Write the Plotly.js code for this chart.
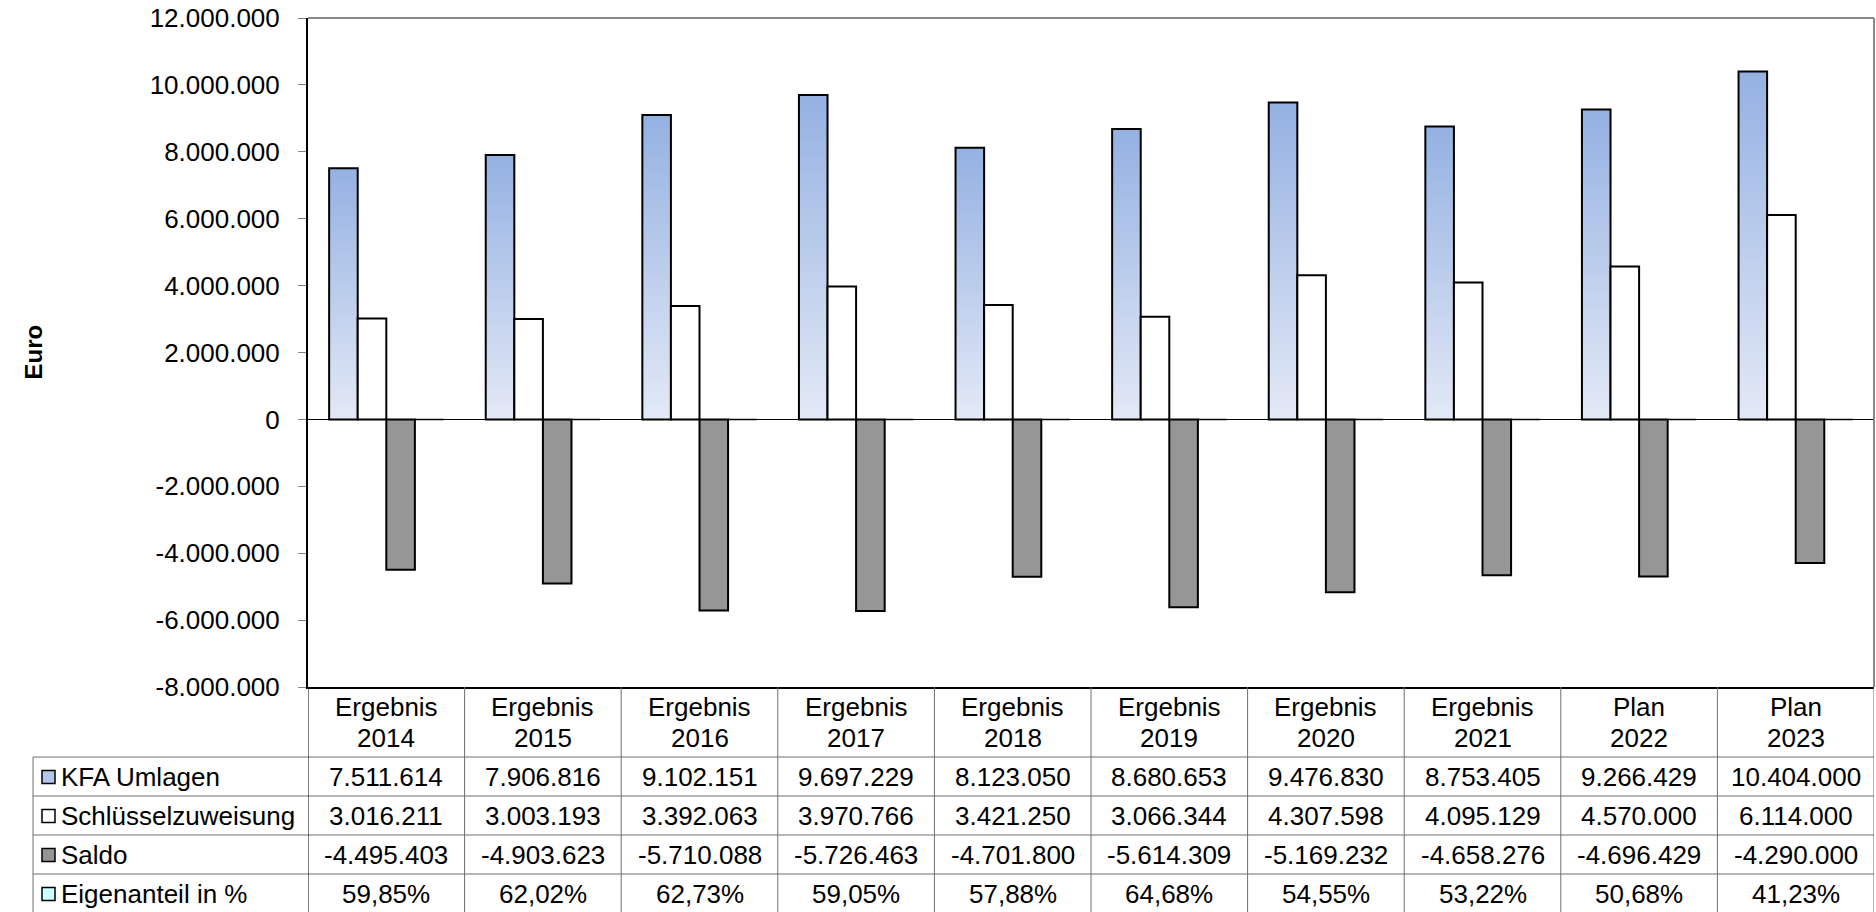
<!DOCTYPE html>
<html>
<head>
<meta charset="utf-8">
<script src="https://cdn.plot.ly/plotly-3.0.1.min.js"></script>
<style>
  html, body { margin: 0; padding: 0; background: #ffffff; }
  #chart { width: 1876px; height: 912px; }
</style>
</head>
<body>
<div id="chart"></div>
<script>
// ---------------- Data ----------------
const categories = ["Ergebnis<br>2014", "Ergebnis<br>2015", "Ergebnis<br>2016", "Ergebnis<br>2017",
  "Ergebnis<br>2018", "Ergebnis<br>2019", "Ergebnis<br>2020", "Ergebnis<br>2021", "Plan<br>2022", "Plan<br>2023"];
const seriesNames = ["KFA Umlagen", "Schlüsselzuweisung", "Saldo", "Eigenanteil in %"];
const kfaUmlagen = [7511614, 7906816, 9102151, 9697229, 8123050, 8680653, 9476830, 8753405, 9266429, 10404000];
const schluesselzuweisung = [3016211, 3003193, 3392063, 3970766, 3421250, 3066344, 4307598, 4095129, 4570000, 6114000];
const saldo = [-4495403, -4903623, -5710088, -5726463, -4701800, -5614309, -5169232, -4658276, -4696429, -4290000];
const eigenanteilPct = [59.85, 62.02, 62.73, 59.05, 57.88, 64.68, 54.55, 53.22, 50.68, 41.23];
const yTickVals = [-8000000, -6000000, -4000000, -2000000, 0, 2000000, 4000000, 6000000, 8000000, 10000000, 12000000];
const axisTitle = "Euro";

// ---------------- Helpers ----------------
function fmtInt(v) {
  const s = Math.abs(Math.round(v)).toString().replace(/\B(?=(\d{3})+(?!\d))/g, ".");
  return (v < 0 ? "-" : "") + s;
}
function fmtPct(v) { return v.toFixed(2).replace(".", ",") + "%"; }

const W = 1876, H = 912;
const M = { l: 308, r: 2, t: 18, b: 225 };
const PW = W - M.l - M.r, PH = H - M.t - M.b;
const px2x = px => (px - M.l) / PW;
const py2y = py => (H - M.b - py) / PH;
const FONT = "Liberation Sans, Arial, sans-serif";
const xIdx = categories.map((c, i) => i);

const fills = ["#B4C7EB", "#FFFFFF", "#969696", "#CCFFFF"];
const rowValues = [kfaUmlagen.map(fmtInt), schluesselzuweisung.map(fmtInt), saldo.map(fmtInt), eigenanteilPct.map(fmtPct)];

// ---------------- Traces ----------------
const seriesY = [kfaUmlagen, schluesselzuweisung, saldo, eigenanteilPct.map(v => v / 100)];
const traces = seriesY.map((ys, k) => ({
  type: "bar",
  x: xIdx,
  y: ys,
  name: seriesNames[k],
  marker: { color: fills[k], line: { color: "#000000", width: k === 3 ? 1.5 : 2 } },
  hoverinfo: "name+y",
  showlegend: false
}));

// ---------------- Table (shapes + annotations) ----------------
const rowLinesPx = [757, 796, 835, 874];
const rowCentersPx = [777, 816, 855, 894];
const headerLinesPx = [707, 738];
const gridColor = "#6e6e6e";
const shapes = [];
const annotations = [];

// plot frame: top and right in gray
shapes.push({ type: "line", xref: "paper", yref: "paper", x0: 0, x1: 1, y0: 1, y1: 1, line: { color: "#8a8a8a", width: 2 } });
shapes.push({ type: "line", xref: "paper", yref: "paper", x0: 1, x1: 1, y0: 0, y1: 1, line: { color: "#8a8a8a", width: 2 } });

// horizontal table lines
rowLinesPx.forEach(py => {
  shapes.push({ type: "line", xref: "paper", yref: "paper", x0: px2x(33), x1: 1, y0: py2y(py), y1: py2y(py),
    line: { color: gridColor, width: 1 } });
});
// left border of legend column
shapes.push({ type: "line", xref: "paper", yref: "paper", x0: px2x(33), x1: px2x(33), y0: py2y(757), y1: py2y(H),
  line: { color: gridColor, width: 1 } });
// column separators
for (let i = 0; i <= categories.length; i++) {
  shapes.push({ type: "line", xref: "x", yref: "paper", x0: i - 0.5, x1: i - 0.5, y0: 0, y1: py2y(H),
    line: { color: i === 0 ? "#000000" : gridColor, width: 1 } });
}
// category header (two lines per category)
categories.forEach((c, i) => {
  c.split("<br>").forEach((part, j) => {
    annotations.push({ xref: "x", yref: "paper", x: i, y: py2y(headerLinesPx[j]), xanchor: "center", yanchor: "middle",
      text: part, showarrow: false, font: { family: FONT, size: 26, color: "#000000" } });
  });
});
// legend keys + labels + cell values
seriesNames.forEach((name, r) => {
  const cy = rowCentersPx[r];
  shapes.push({ type: "rect", xref: "paper", yref: "paper",
    x0: px2x(42), x1: px2x(55), y0: py2y(cy - 6.5), y1: py2y(cy + 6.5),
    fillcolor: fills[r], line: { color: "#000000", width: 1.5 } });
  annotations.push({ xref: "paper", yref: "paper", x: px2x(59), y: py2y(cy), xanchor: "left", yanchor: "middle",
    text: name, showarrow: false, font: { family: FONT, size: 26, color: "#000000" } });
  rowValues[r].forEach((t, i) => {
    annotations.push({ xref: "x", yref: "paper", x: i, y: py2y(cy), xanchor: "center", yanchor: "middle",
      text: t, showarrow: false, font: { family: FONT, size: 26, color: "#000000" } });
  });
});
// y axis title
annotations.push({ xref: "paper", yref: "paper", x: px2x(33), y: 0.5, xanchor: "center", yanchor: "middle",
  text: "<b>" + axisTitle + "</b>", textangle: -90, showarrow: false, font: { family: FONT, size: 24, color: "#000000" } });

// ---------------- Layout ----------------
const layout = {
  width: W, height: H,
  margin: M,
  paper_bgcolor: "#ffffff",
  plot_bgcolor: "#ffffff",
  font: { family: FONT, size: 26, color: "#000000" },
  barmode: "group",
  bargap: 0.27,
  bargroupgap: 0,
  showlegend: false,
  xaxis: {
    range: [-0.5, categories.length - 0.5],
    tickvals: xIdx,
    ticktext: categories,
    showticklabels: false,
    ticks: "",
    showgrid: false,
    zeroline: false,
    showline: true, linecolor: "#000000", linewidth: 2,
    fixedrange: true
  },
  yaxis: {
    range: [-8000000, 12000000],
    tickvals: yTickVals,
    ticktext: yTickVals.map(fmtInt),
    ticks: "outside", ticklen: 8, tickcolor: "#808080", tickwidth: 1,
    ticklabelstandoff: 13,
    showgrid: false,
    zeroline: true, zerolinecolor: "#000000", zerolinewidth: 1.5,
    showline: true, linecolor: "#000000", linewidth: 2,
    tickfont: { family: FONT, size: 26, color: "#000000" },
    fixedrange: true
  },
  shapes: shapes,
  annotations: annotations
};

Plotly.newPlot("chart", traces, layout, { displayModeBar: false, staticPlot: true }).then(gd => {
  // vertical gradient for the KFA Umlagen bars
  const svg = gd.querySelector(".main-svg");
  const NS = "http://www.w3.org/2000/svg";
  let defs = svg.querySelector("defs");
  if (!defs) { defs = document.createElementNS(NS, "defs"); svg.insertBefore(defs, svg.firstChild); }
  const grad = document.createElementNS(NS, "linearGradient");
  grad.setAttribute("id", "kfaGrad");
  grad.setAttribute("x1", "0"); grad.setAttribute("y1", "0");
  grad.setAttribute("x2", "0"); grad.setAttribute("y2", "1");
  [["0", "#94B1E2"], ["1", "#E3E9F6"]].forEach(([o, c]) => {
    const s = document.createElementNS(NS, "stop");
    s.setAttribute("offset", o); s.setAttribute("stop-color", c);
    grad.appendChild(s);
  });
  defs.appendChild(grad);
  const firstTrace = gd.querySelectorAll(".barlayer .trace")[0];
  if (firstTrace) firstTrace.querySelectorAll("path").forEach(p => { p.style.fill = "url(#kfaGrad)"; });
});
</script>
</body>
</html>
